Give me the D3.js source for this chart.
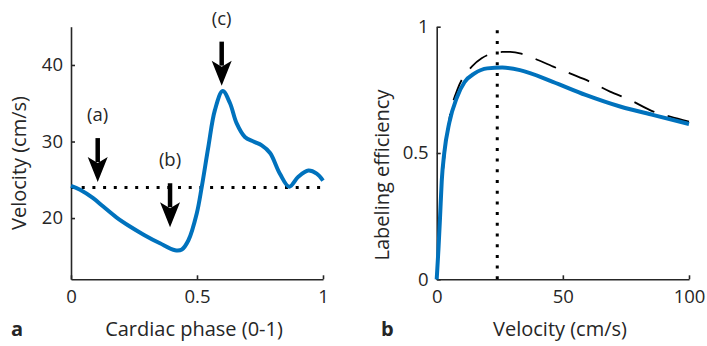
<!DOCTYPE html>
<html>
  <head>
    <meta charset="utf-8" />
    <title>Velocity and labeling efficiency</title>
    <script src="https://d3js.org/d3.v7.min.js"></script>
    <style>
      body { margin: 0; background: #fff; }
      text { font-family: "Open Sans", sans-serif; fill: #262626; }
    </style>
  </head>
  <body>
    <svg width="707" height="346"></svg>
    <script>
      // panel a: velocity over the cardiac cycle
      var phase = [0, 0.036, 0.088, 0.128, 0.18, 0.234, 0.29, 0.353, 0.413, 0.44, 0.466, 0.499,
        0.519, 0.545, 0.571, 0.602, 0.631, 0.657, 0.69, 0.724, 0.757, 0.79, 0.829, 0.866,
        0.902, 0.942, 0.975, 1.0];
      var velocity = [24.2, 23.7, 22.6, 21.5, 20.1, 18.9, 17.8, 16.7, 15.8, 15.9, 17.1, 20.6,
        24.1, 29.3, 34.1, 36.6, 35.0, 32.4, 30.6, 30.0, 29.5, 28.5, 25.8, 24.1,
        25.4, 26.2, 25.8, 24.9];
      var meanVelocity = 24;
      var arrowLabels = ["(a)", "(b)", "(c)"];
      var arrowPhase = [0.106, 0.393, 0.598];
      var arrowTipVelocity = [24.7, 18.8, 37.3];

      // panel b: labeling efficiency vs velocity
      var velB = [0, 0.7, 1.3, 2, 3, 5, 8, 11, 15, 20, 26, 33, 46, 59, 73, 86, 100];
      var effSolid = [0, 0.12, 0.24, 0.39, 0.5, 0.62, 0.72, 0.78, 0.815, 0.835, 0.838, 0.828,
        0.782, 0.73, 0.683, 0.65, 0.615];
      var velDash = [0, 1, 2, 3, 4.6, 5.9, 7.9, 9.9, 13.9, 17.8, 21.8, 26, 29.1, 33, 37, 46.2,
        52.8, 60.8, 68.7, 76.6, 85.9, 92.5, 100];
      var effDash = [0, 0.2, 0.37, 0.48, 0.604, 0.683, 0.743, 0.789, 0.842, 0.875, 0.894, 0.9,
        0.9, 0.894, 0.881, 0.842, 0.815, 0.782, 0.743, 0.71, 0.664, 0.644, 0.624];

      var xTicksA = [0, 0.5, 1], yTicksA = [20, 30, 40];
      var xTicksB = [0, 50, 100], yTicksB = [0, 0.5, 1];

      var svg = d3.select("svg");
      var blue = "#0072bd", ink = "#262626";
      var tickFont = 18.5, labelFont = 20;

      var xA = d3.scaleLinear().domain([0, 1]).range([71, 323]);
      var yA = d3.scaleLinear().domain([12, 45]).range([279.3, 26.7]);
      var xB = d3.scaleLinear().domain([0, 100]).range([436.7, 689]);
      var yB = d3.scaleLinear().domain([0, 1]).range([279.3, 26.7]);

      function drawAxes(x, y, xt, yt) {
        var gx = svg.append("g")
          .attr("transform", "translate(0," + y.range()[0] + ")")
          .call(d3.axisBottom(x).tickValues(xt).tickSizeInner(-4).tickSizeOuter(0)
            .tickPadding(11).tickFormat(d3.format("")));
        var gy = svg.append("g")
          .attr("transform", "translate(" + x.range()[0] + ",0)")
          .call(d3.axisLeft(y).tickValues(yt).tickSizeInner(-4).tickSizeOuter(0)
            .tickPadding(8).tickFormat(d3.format("")));
        [gx, gy].forEach(function (g) {
          g.select(".domain").attr("stroke", ink).attr("stroke-width", 1.6);
          g.selectAll(".tick line").attr("stroke", ink).attr("stroke-width", 1.6);
          g.selectAll(".tick text").attr("font-size", tickFont).attr("fill", ink)
            .style("font-family", "'Open Sans', sans-serif");
        });
      }

      drawAxes(xA, yA, xTicksA, yTicksA);
      drawAxes(xB, yB, xTicksB, yTicksB);

      // panel a lines
      svg.append("line")
        .attr("x1", xA(0)).attr("x2", xA(1))
        .attr("y1", yA(meanVelocity)).attr("y2", yA(meanVelocity))
        .attr("stroke", "#000").attr("stroke-width", 3)
        .attr("stroke-dasharray", "3,7.7");

      var lineA = d3.line()
        .x(function (d, i) { return xA(phase[i]); })
        .y(function (d) { return yA(d); })
        .curve(d3.curveCatmullRom.alpha(0.5));
      svg.append("path")
        .attr("d", lineA(velocity))
        .attr("fill", "none").attr("stroke", blue).attr("stroke-width", 4);

      // arrows
      arrowLabels.forEach(function (lab, i) {
        var tx = xA(arrowPhase[i]), ty = yA(arrowTipVelocity[i]);
        svg.append("line")
          .attr("x1", tx).attr("x2", tx)
          .attr("y1", ty - 44).attr("y2", ty - 20)
          .attr("stroke", "#000").attr("stroke-width", 4.5);
        svg.append("path")
          .attr("d", "M" + (tx - 10) + "," + (ty - 25) + "L" + tx + "," + ty +
            "L" + (tx + 10) + "," + (ty - 25) + "L" + tx + "," + (ty - 19) + "Z")
          .attr("fill", "#000");
        svg.append("text")
          .attr("x", tx).attr("y", ty - 61)
          .attr("text-anchor", "middle")
          .attr("font-size", tickFont)
          .text(lab);
      });

      // panel b lines
      svg.append("line")
        .attr("x1", xB(meanVelocity)).attr("x2", xB(meanVelocity))
        .attr("y1", yB(0)).attr("y2", yB(1))
        .attr("stroke", "#000").attr("stroke-width", 3)
        .attr("stroke-dasharray", "3,7.7");

      var lineDash = d3.line()
        .x(function (d, i) { return xB(velDash[i]); })
        .y(function (d) { return yB(d); })
        .curve(d3.curveCatmullRom.alpha(0.5));
      svg.append("path")
        .attr("d", lineDash(effDash))
        .attr("fill", "none").attr("stroke", "#000").attr("stroke-width", 1.8)
        .attr("stroke-dasharray", "22,14");

      var lineSolid = d3.line()
        .x(function (d, i) { return xB(velB[i]); })
        .y(function (d) { return yB(d); })
        .curve(d3.curveMonotoneX);
      svg.append("path")
        .attr("d", lineSolid(effSolid))
        .attr("fill", "none").attr("stroke", blue).attr("stroke-width", 4);

      // axis titles and panel letters
      svg.append("text")
        .attr("x", 194).attr("y", 336).attr("text-anchor", "middle")
        .attr("font-size", labelFont).text("Cardiac phase (0-1)");
      svg.append("text")
        .attr("x", 560).attr("y", 336).attr("text-anchor", "middle")
        .attr("font-size", labelFont).text("Velocity (cm/s)");
      svg.append("text")
        .attr("transform", "translate(26,163) rotate(-90)").attr("text-anchor", "middle")
        .attr("font-size", labelFont).text("Velocity (cm/s)");
      svg.append("text")
        .attr("transform", "translate(389,175) rotate(-90)").attr("text-anchor", "middle")
        .attr("font-size", labelFont).text("Labeling efficiency");
      svg.append("text")
        .attr("x", 11).attr("y", 336).attr("font-size", labelFont).attr("font-weight", "bold")
        .text("a");
      svg.append("text")
        .attr("x", 381).attr("y", 336).attr("font-size", labelFont).attr("font-weight", "bold")
        .text("b");
    </script>
  </body>
</html>
